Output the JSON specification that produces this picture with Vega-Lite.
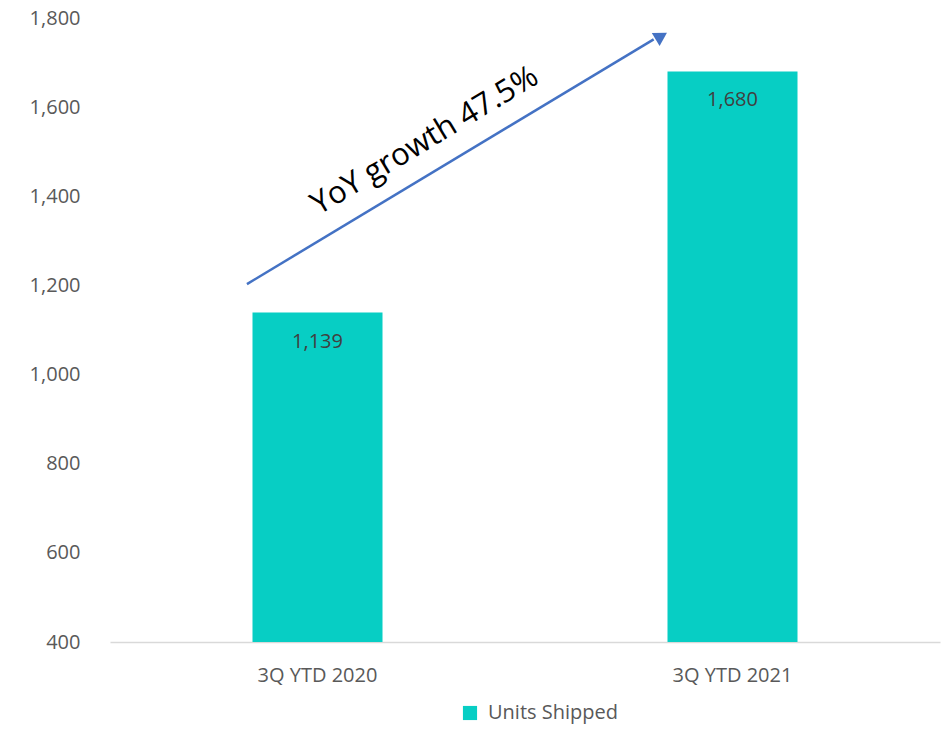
{
  "$schema": "https://vega.github.io/schema/vega-lite/v6.json",
  "width": 830,
  "height": 624,
  "autosize": {"type": "none"},
  "padding": {"left": 110, "top": 18, "right": 3, "bottom": 88},
  "background": "white",
  "config": {
    "view": {"stroke": null},
    "font": "Open Sans",
    "axis": {"labelFont": "Open Sans", "labelFontSize": 20, "labelColor": "#595959", "ticks": false, "grid": false, "title": null},
    "legend": {"labelFont": "Open Sans", "labelFontSize": 20, "labelColor": "#595959"}
  },
  "datasets": {
    "bars": [
      {"period": "3Q YTD 2020", "units": 1139, "base": 400, "series": "Units Shipped"},
      {"period": "3Q YTD 2021", "units": 1680, "base": 400, "series": "Units Shipped"}
    ],
    "arrow": [{"x": 0.165, "y": 1203, "x2": 0.655, "y2": 1752}],
    "head": [{"x": 0.662, "y": 1757}],
    "note": [{"x": 0.3795, "y": 1524, "text": "YoY growth 47.5%"}]
  },
  "resolve": {"scale": {"x": "independent"}},
  "layer": [
    {
      "data": {"name": "bars"},
      "mark": {"type": "bar", "size": 130},
      "encoding": {
        "x": {"field": "period", "type": "nominal", "sort": null,
              "scale": {"paddingInner": 0, "paddingOuter": 0},
              "axis": {"labelAngle": 0, "domain": true, "domainColor": "#d9d9d9", "domainWidth": 1.5, "labelPadding": 23}},
        "y": {"field": "units", "type": "quantitative",
              "scale": {"domain": [400, 1800], "zero": false, "nice": false},
              "axis": {"format": ",.0f", "values": [400, 600, 800, 1000, 1200, 1400, 1600, 1800], "domain": false, "labelPadding": 30}},
        "y2": {"field": "base"},
        "color": {"field": "series", "type": "nominal", "scale": {"range": ["#07CEC4"]},
                  "legend": {"title": null, "orient": "none", "legendX": 350, "legendY": 685, "symbolType": "square", "symbolSize": 200, "symbolStrokeWidth": 0, "symbolOpacity": 1, "labelOffset": 8}}
      }
    },
    {
      "data": {"name": "bars"},
      "mark": {"type": "text", "dy": 29, "fontSize": 20, "color": "#404040", "baseline": "middle"},
      "encoding": {
        "x": {"field": "period", "type": "nominal", "sort": null, "scale": {"paddingInner": 0, "paddingOuter": 0}, "axis": null},
        "y": {"field": "units", "type": "quantitative", "scale": {"domain": [400, 1800], "zero": false, "nice": false}},
        "text": {"field": "units", "type": "quantitative", "format": ",.0f"}
      }
    },
    {
      "data": {"name": "arrow"},
      "mark": {"type": "rule", "color": "#4472C4", "strokeWidth": 2.5},
      "encoding": {
        "x": {"field": "x", "type": "quantitative", "scale": {"domain": [0, 1], "nice": false, "zero": false}, "axis": null},
        "x2": {"field": "x2"},
        "y": {"field": "y", "type": "quantitative", "scale": {"domain": [400, 1800], "zero": false, "nice": false}},
        "y2": {"field": "y2"}
      }
    },
    {
      "data": {"name": "head"},
      "mark": {"type": "point", "shape": "triangle", "size": 230, "angle": 59, "filled": true, "color": "#4472C4", "opacity": 1},
      "encoding": {
        "x": {"field": "x", "type": "quantitative", "scale": {"domain": [0, 1], "nice": false, "zero": false}, "axis": null},
        "y": {"field": "y", "type": "quantitative", "scale": {"domain": [400, 1800], "zero": false, "nice": false}}
      }
    },
    {
      "data": {"name": "note"},
      "mark": {"type": "text", "angle": -31, "fontSize": 31, "fontWeight": 500, "color": "#000000", "align": "center", "baseline": "middle"},
      "encoding": {
        "x": {"field": "x", "type": "quantitative", "scale": {"domain": [0, 1], "nice": false, "zero": false}, "axis": null},
        "y": {"field": "y", "type": "quantitative", "scale": {"domain": [400, 1800], "zero": false, "nice": false}},
        "text": {"field": "text", "type": "nominal"}
      }
    }
  ]
}
